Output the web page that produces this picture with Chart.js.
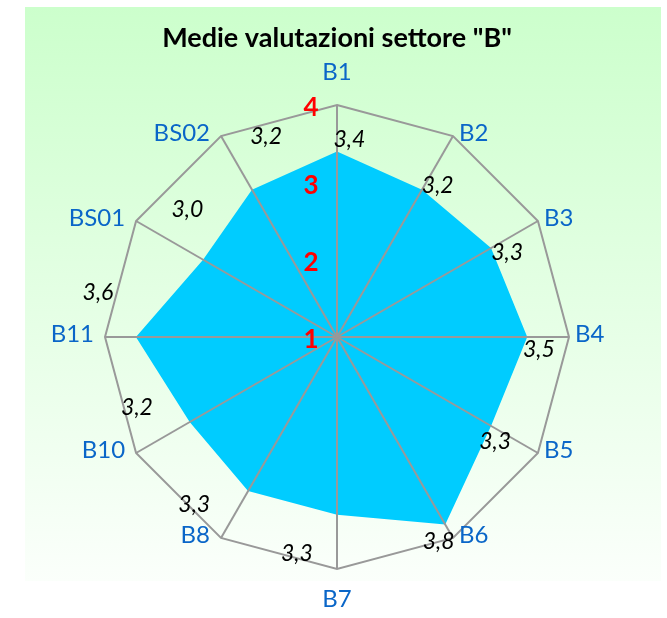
<!DOCTYPE html>
<html>
<head>
<meta charset="utf-8">
<script src="https://cdn.jsdelivr.net/npm/chart.js@4.4.0/dist/chart.umd.min.js"></script>
<style>
    html, body { margin: 0; padding: 0; background: #ffffff; }
    #wrap { width: 667px; height: 618px; }
</style>
</head>
<body>
<div id="wrap"><canvas id="radarChart" width="667" height="618"></canvas></div>
<script>
const categories = ['B1', 'B2', 'B3', 'B4', 'B5', 'B6', 'B7', 'B8', 'B10', 'B11', 'BS01', 'BS02'];
const averages = [3.4, 3.2, 3.3, 3.46, 3.3, 3.8, 3.3, 3.3, 3.2, 3.6, 3.0, 3.2];
const tickValues = [1, 2, 3, 4];

const FONT = 'Lato, "Liberation Sans", sans-serif';

// green panel behind the chart, fading to white at the bottom
const panelBackground = {
    id: 'panelBackground',
    beforeDraw(chart) {
        const ctx = chart.ctx;
        const grad = ctx.createLinearGradient(0, 7, 0, 581);
        grad.addColorStop(0, '#ccffcc');
        grad.addColorStop(1, '#fbfffb');
        ctx.save();
        ctx.fillStyle = grad;
        ctx.fillRect(25, 7, 636, 574);
        ctx.restore();
    }
};

// red scale numbers, blue axis names and the italic value labels
const radarText = {
    id: 'radarText',
    afterDraw(chart) {
        const ctx = chart.ctx;
        const scale = chart.scales.r;
        ctx.save();
        ctx.textBaseline = 'middle';

        ctx.textAlign = 'center';
        ctx.fillStyle = '#ff0000';
        ctx.font = 'bold 26px ' + FONT;
        tickValues.forEach(v => {
            const d = scale.getDistanceFromCenterForValue(v);
            ctx.fillText(String(v), scale.xCenter - 26, scale.yCenter - d + 3);
        });

        // axis names sit beside the outer vertex, or above/below it on the vertical axis
        ctx.fillStyle = '#0a66c8';
        ctx.font = '24px ' + FONT;
        categories.forEach((label, i) => {
            const angle = scale.getIndexAngle(i);
            const s = Math.sin(angle), c = Math.cos(angle);
            const p = scale.getPointPosition(i, scale.drawingArea);
            if (Math.abs(s) < 0.01) {
                ctx.textAlign = 'center';
                ctx.fillText(label, p.x, p.y + (c > 0 ? -33 : 30));
            } else {
                ctx.textAlign = s > 0 ? 'left' : 'right';
                ctx.fillText(label, p.x + (s > 0 ? 6 : -11), p.y - 3);
            }
        });

        ctx.textAlign = 'center';
        ctx.fillStyle = '#000000';
        ctx.font = 'italic 23px ' + FONT;
        averages.forEach((v, i) => {
            const left = i > 5;
            const d = scale.getDistanceFromCenterForValue(v) + (left ? 42 : 12);
            const p = scale.getPointPosition(i + (left ? 0.35 : 0.12), d);
            ctx.fillText(v.toFixed(1).replace('.', ','), p.x, p.y);
        });
        ctx.restore();
    }
};

new Chart(document.getElementById('radarChart'), {
    type: 'radar',
    data: {
        labels: categories,
        datasets: [{
            label: 'Medie',
            data: averages,
            backgroundColor: '#00ccff',
            borderWidth: 0,
            pointRadius: 0,
            fill: true
        }]
    },
    options: {
        responsive: false,
        animation: false,
        layout: { padding: { left: 60, right: 53, top: 8, bottom: 48 } },
        scales: {
            r: {
                min: 1,
                max: 4,
                ticks: { display: false, stepSize: 1 },
                grid: {
                    z: 1,
                    color: ctx => ctx.tick && ctx.tick.value === 4 ? '#999999' : 'rgba(0,0,0,0)',
                    lineWidth: 2
                },
                angleLines: { color: '#999999', lineWidth: 2 },
                pointLabels: { display: false }
            }
        },
        plugins: {
            legend: { display: false },
            tooltip: { enabled: false },
            title: {
                display: true,
                text: 'Medie valutazioni settore "B"',
                color: '#000000',
                font: { family: FONT, size: 27, weight: 'bold', lineHeight: 1.2 },
                padding: { top: 14, bottom: 51.4 }
            }
        }
    },
    plugins: [panelBackground, radarText]
});
</script>
</body>
</html>
